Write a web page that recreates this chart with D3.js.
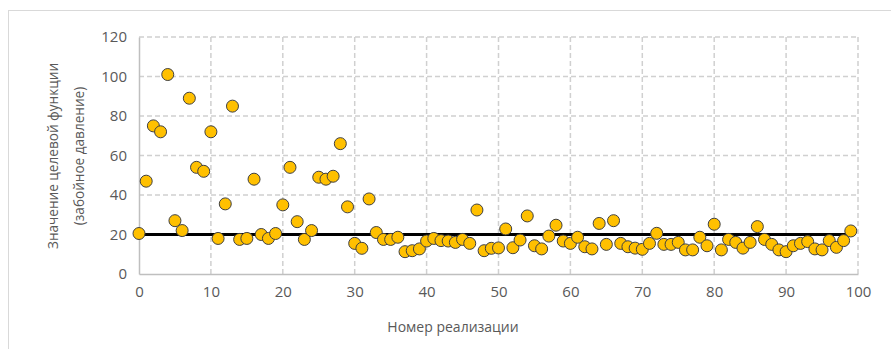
<!DOCTYPE html>
<html>
<head>
<meta charset="utf-8">
<script src="https://cdn.jsdelivr.net/npm/d3@7"></script>
<style>
  body { margin: 0; background: #fff; }
  text { font-family: "Open Sans", "Noto Sans", sans-serif; fill: #595959; }
</style>
</head>
<body>
<div id="chart"></div>
<script>
// objective values per realisation (index = realisation number)
const values = [
  20.5, 47, 75, 72, 101, 27, 22, 89, 54, 52,
  72, 18, 35.5, 85, 17.5, 18, 48, 20, 18, 20.5,
  35, 54, 26.5, 17.5, 22, 49, 48, 49.5, 66, 34,
  15.5, 13, 38, 21, 17.5, 17.5, 18.6, 11.3, 11.8, 12.7,
  16.7, 18, 16.9, 16.7, 16, 17.5, 15.5, 32.4, 11.8, 13,
  13.2, 22.8, 13.3, 17.2, 29.4, 14.3, 12.7, 19.2, 24.7, 16.7,
  15.5, 18.6, 13.8, 12.7, 25.6, 15, 27, 15.5, 13.8, 13.1,
  12.5, 15.5, 20.6, 15, 15, 16, 12.2, 12.2, 18.6, 14.3,
  25.2, 12.2, 17.5, 16, 13.1, 16, 24, 17.5, 15, 12.2,
  11.3, 14.3, 15.5, 16.4, 12.7, 12.2, 16.9, 13.5, 16.9, 21.8
];
const refLevel = 20;
const xTicks = [0, 10, 20, 30, 40, 50, 60, 70, 80, 90, 100];
const yTicks = [0, 20, 40, 60, 80, 100, 120];
const xTitle = "Номер реализации";
const yTitle = ["Значение целевой функции", "(забойное давление)"];

const W = 891, H = 349;
const m = { left: 139, right: 891 - 858, top: 37, bottom: 349 - 274 };

const svg = d3.select("#chart").append("svg")
  .attr("width", W).attr("height", H);

// chart frame
svg.append("rect")
  .attr("x", 8.5).attr("y", 10.5)
  .attr("width", W).attr("height", H)
  .attr("fill", "none").attr("stroke", "#d9d9d9");

const x = d3.scaleLinear().domain([0, 100]).range([m.left, W - m.right]);
const y = d3.scaleLinear().domain([0, 120]).range([H - m.bottom, m.top]);

// gridlines
const grid = svg.append("g");
grid.selectAll(".gx").data(xTicks.slice(1)).enter().append("line")
  .attr("x1", d => x(d)).attr("x2", d => x(d))
  .attr("y1", y(0)).attr("y2", y(120))
  .attr("stroke", "#d0d0d0").attr("stroke-width", 1.5)
  .attr("stroke-dasharray", "5,3");
grid.selectAll(".gy").data(yTicks.slice(1)).enter().append("line")
  .attr("x1", x(0)).attr("x2", x(100))
  .attr("y1", d => y(d)).attr("y2", d => y(d))
  .attr("stroke", "#d0d0d0").attr("stroke-width", 1.5)
  .attr("stroke-dasharray", "5,3");

// axes
const xAxis = svg.append("g")
  .attr("transform", "translate(0," + y(0) + ")")
  .call(d3.axisBottom(x).tickValues(xTicks).tickSize(0).tickPadding(12));
const yAxis = svg.append("g")
  .attr("transform", "translate(" + x(0) + ",0)")
  .call(d3.axisLeft(y).tickValues(yTicks).tickSize(0).tickPadding(12));
[xAxis, yAxis].forEach(a => {
  a.select(".domain").attr("stroke", "#bfbfbf").attr("stroke-width", 1.5);
  a.selectAll("text").attr("font-size", 15).attr("fill", "#595959")
    .style("font-family", '"Open Sans", sans-serif');
});

// reference line
svg.append("line")
  .attr("x1", x(0)).attr("x2", x(values.length - 1))
  .attr("y1", y(refLevel)).attr("y2", y(refLevel))
  .attr("stroke", "#000").attr("stroke-width", 3);

// markers
svg.append("g").selectAll("circle").data(values).enter().append("circle")
  .attr("cx", (d, i) => x(i))
  .attr("cy", d => y(d))
  .attr("r", 6)
  .attr("fill", "#FFC000")
  .attr("stroke", "#404040")
  .attr("stroke-width", 1);

// titles
svg.append("text")
  .attr("x", 453).attr("y", 332)
  .attr("text-anchor", "middle").attr("font-size", 14)
  .text(xTitle);

const yt = svg.append("text")
  .attr("transform", "translate(58,156) rotate(-90)")
  .attr("text-anchor", "middle").attr("font-size", 13.6);
yTitle.forEach((t, i) => {
  yt.append("tspan").attr("x", 0).attr("dy", i === 0 ? 0 : 26).text(t);
});
</script>
</body>
</html>
